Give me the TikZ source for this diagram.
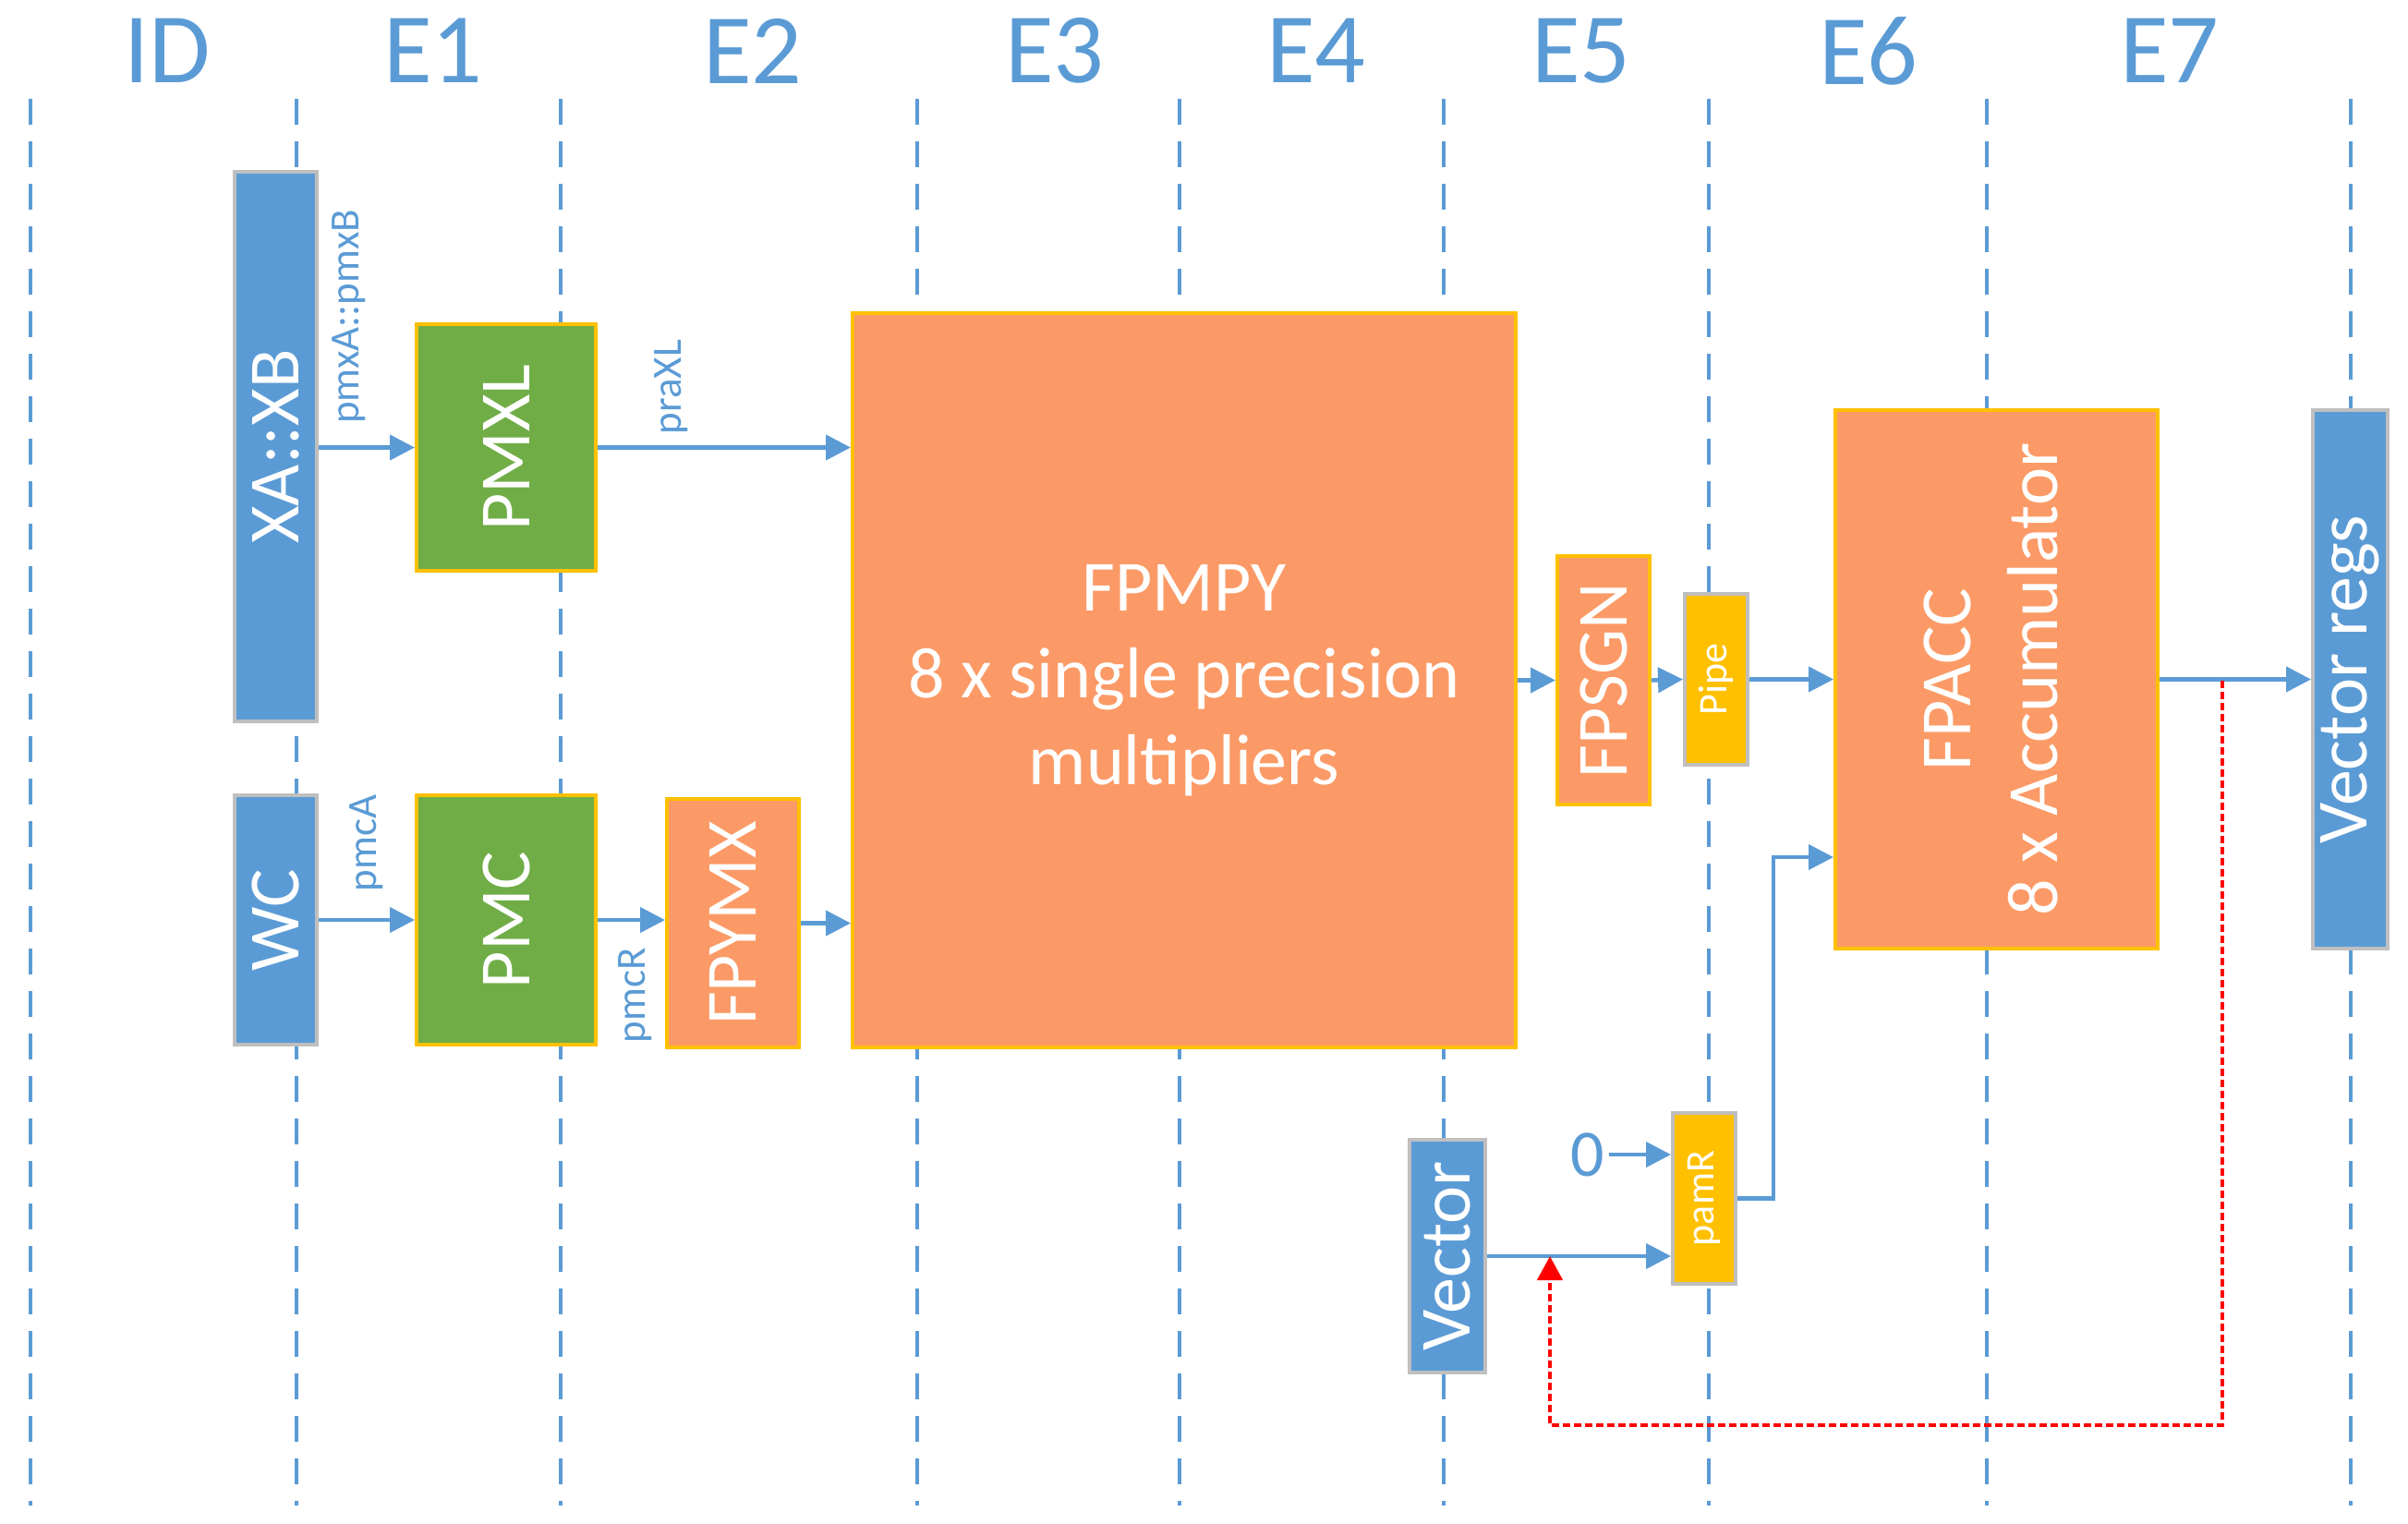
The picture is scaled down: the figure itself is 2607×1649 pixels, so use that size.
\documentclass[tikz,border=0pt]{standalone}
\usepackage{fontspec}
\setmainfont{Carlito}
\usepackage{graphicx}
\usetikzlibrary{arrows.meta}
\definecolor{pblue}{HTML}{5B9BD5}
\definecolor{pgreen}{HTML}{70AD47}
\definecolor{porange}{HTML}{FB9A66}
\definecolor{pgold}{HTML}{FFC000}
\definecolor{pgray}{HTML}{BFBFBF}
\definecolor{pred}{HTML}{FF0000}
\tikzset{
  box/.style={draw=pgold,line width=2pt,text=white,inner sep=0pt,
    font=\fontsize{39}{47}\selectfont},
  bluebox/.style={box,fill=pblue,draw=pgray},
  greenbox/.style={box,fill=pgreen},
  orangebox/.style={box,fill=porange},
  pipebox/.style={box,fill=pgold,draw=pgray,font=\fontsize{22}{26}\selectfont},
  conn/.style={draw=pblue,line width=2.2pt,-{Triangle[length=13.5pt,width=13.5pt]}},
  fback/.style={draw=pred,line width=2.2pt,dash pattern=on 4pt off 2pt,
    -{Triangle[length=13pt,width=13.5pt]}},
  stage/.style={text=pblue,font=\fontsize{54}{60}\selectfont},
  sig/.style={text=pblue,inner sep=0pt,font=\fontsize{22.5}{26}\selectfont},
  grid/.style={draw=pblue,line width=2pt,dash pattern=on 14pt off 9pt}
}
\begin{document}
\begin{tikzpicture}[x=0.5pt,y=-0.5pt]
\useasboundingbox (0,0) rectangle (2607,1649);
\foreach \x in {33,321,607,993,1277,1563,1850,2151,2545}
  \draw[grid] (\x,107) -- (\x,1630);
\foreach \t/\x in {ID/181,E1/469,E2/815,E3/1142,E4/1425,E5/1712,E6/2023,E7/2349}
  \node[stage] (st-\t) at (\x,55) {\t};

\node[bluebox,minimum width=44.5pt,minimum height=297.5pt] (xaxb) at (298.5,483.5) {\rotatebox{90}{XA::XB}};
\node[greenbox,minimum width=97pt,minimum height=133.5pt] (pmxl) at (548,484.5) {\rotatebox{90}{PMXL}};
\node[bluebox,minimum width=44.5pt,minimum height=135pt] (wc) at (298.5,996) {\rotatebox{90}{WC}};
\node[greenbox,minimum width=97pt,minimum height=135pt] (pmc) at (548,996) {\rotatebox{90}{PMC}};
\node[orangebox,minimum width=71.5pt,minimum height=134.5pt] (fpymx) at (793.5,999.5) {\rotatebox{90}{FPYMX}};
\node[orangebox,minimum width=359pt,minimum height=397.5pt,align=center] (fpmpy) at (1282,736.5)
  {FPMPY\\8 x single precision\\multipliers};
\node[orangebox,minimum width=50pt,minimum height=134.5pt] (fpsgn) at (1736,736.5) {\rotatebox{90}{FPSGN}};
\node[pipebox,minimum width=34pt,minimum height=92.5pt] (pipe) at (1858,735.5) {\rotatebox{90}{Pipe}};
\node[orangebox,minimum width=174.5pt,minimum height=291.5pt] (fpacc) at (2161.5,735.5)
  {\rotatebox{90}{\begin{tabular}{@{}c@{}}FPACC\\8 x Accumulator\end{tabular}}};
\node[bluebox,minimum width=40.5pt,minimum height=291.5pt] (vregs) at (2544.5,735.5) {\rotatebox{90}{Vector regs}};
\node[bluebox,minimum width=41pt,minimum height=126pt] (vector) at (1567,1360) {\rotatebox{90}{Vector}};
\node[pipebox,minimum width=34pt,minimum height=92.5pt] (pamr) at (1845,1297.5) {\rotatebox{90}{pamR}};
\node[text=pblue,inner sep=2pt,font=\fontsize{36}{40}\selectfont] (zero) at (1719,1250) {0};

\node[sig] (l-pmx) at (378,343) {\rotatebox{90}{pmxA::pmxB}};
\node[sig] (l-pra) at (727,419) {\rotatebox{90}{praXL}};
\node[sig] (l-pmca) at (397,913) {\rotatebox{90}{pmcA}};
\node[sig] (l-pmcr) at (688,1078) {\rotatebox{90}{pmcR}};

\draw[conn] (xaxb.east |- pmxl.west) -- (pmxl.west);
\draw[conn] (pmxl.east) -- (pmxl.east -| fpmpy.west);
\draw[conn] (wc.east) -- (pmc.west);
\draw[conn] (pmc.east) -- (pmc.east -| fpymx.west);
\draw[conn] (fpymx.east) -- (fpymx.east -| fpmpy.west);
\draw[conn] (fpmpy.east) -- (fpsgn.west);
\draw[conn] (fpsgn.east) -- (pipe.west);
\draw[conn] (pipe.east) -- (fpacc.west);
\draw[conn] (fpacc.east) -- (vregs.west);
\draw[conn] (zero.east) -- (zero.east -| pamr.west);
\draw[conn] (vector.east) -- (vector.east -| pamr.west);
\coordinate (bend) at (1920,928);
\draw[conn] (pamr.east) -| (bend) -- (fpacc.west |- bend);
\coordinate (tap) at (2406,737);
\coordinate (fb) at (1678,1543);
\draw[fback] (tap) |- (fb) -- (fb |- vector.east);
\end{tikzpicture}
\end{document}
